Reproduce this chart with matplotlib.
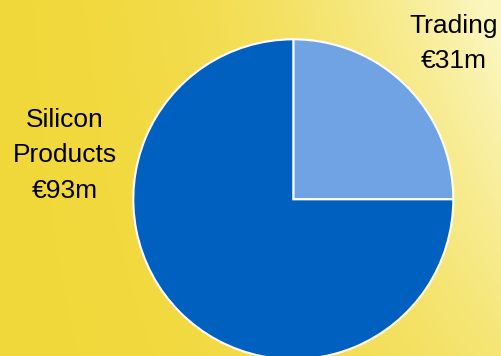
import numpy as np
import matplotlib.pyplot as plt

# data
labels = ["Trading", "Silicon\nProducts"]
values = [31, 93]
colors = ["#70a3e3", "#0060bf"]

plt.rcParams['font.family'] = ['Liberation Sans', 'DejaVu Sans']

W, H = 501, 356
fig = plt.figure(figsize=(W / 100, H / 100), dpi=100)

# yellow background, lighter towards the upper right
bg = fig.add_axes([0, 0, 1, 1])
x = np.linspace(0, 1, 200)
y = np.linspace(0, 1, 150)
gx, gy = np.meshgrid(x, y)
t = np.clip(gx ** 2.2 * (1.0 - 0.55 * gy) + 0.08 * (1 - gy) * gx, 0, 1)
gold = np.array([241, 216, 58]) / 255.0
pale = np.array([251, 246, 190]) / 255.0
img = gold[None, None, :] * (1 - t[..., None]) + pale[None, None, :] * t[..., None]
bg.imshow(img, extent=[0, 1, 0, 1], aspect='auto', origin='upper')
bg.set_axis_off()

# pie, center (293, 199) px, radius 160 px
cx, cy, r = 293.3 / W, 1 - 199.3 / H, 160.0
ax = fig.add_axes([cx - r / W, cy - r / H, 2 * r / W, 2 * r / H])
ax.pie(values, colors=colors, startangle=90, counterclock=False,
       wedgeprops=dict(edgecolor='white', linewidth=1.5))
ax.set_xlim(-1, 1)
ax.set_ylim(-1, 1)
ax.set_axis_off()

# labels
label_pos = [(454, 14), (65, 108)]
for lab, val, (px, py) in zip(labels, values, label_pos):
    fig.text(px / W, 1 - py / H, f"{lab}\n€{val}m", ha='center', va='top',
             fontsize=19, linespacing=1.6, color='black')

fig.savefig("out.png", dpi=100)
